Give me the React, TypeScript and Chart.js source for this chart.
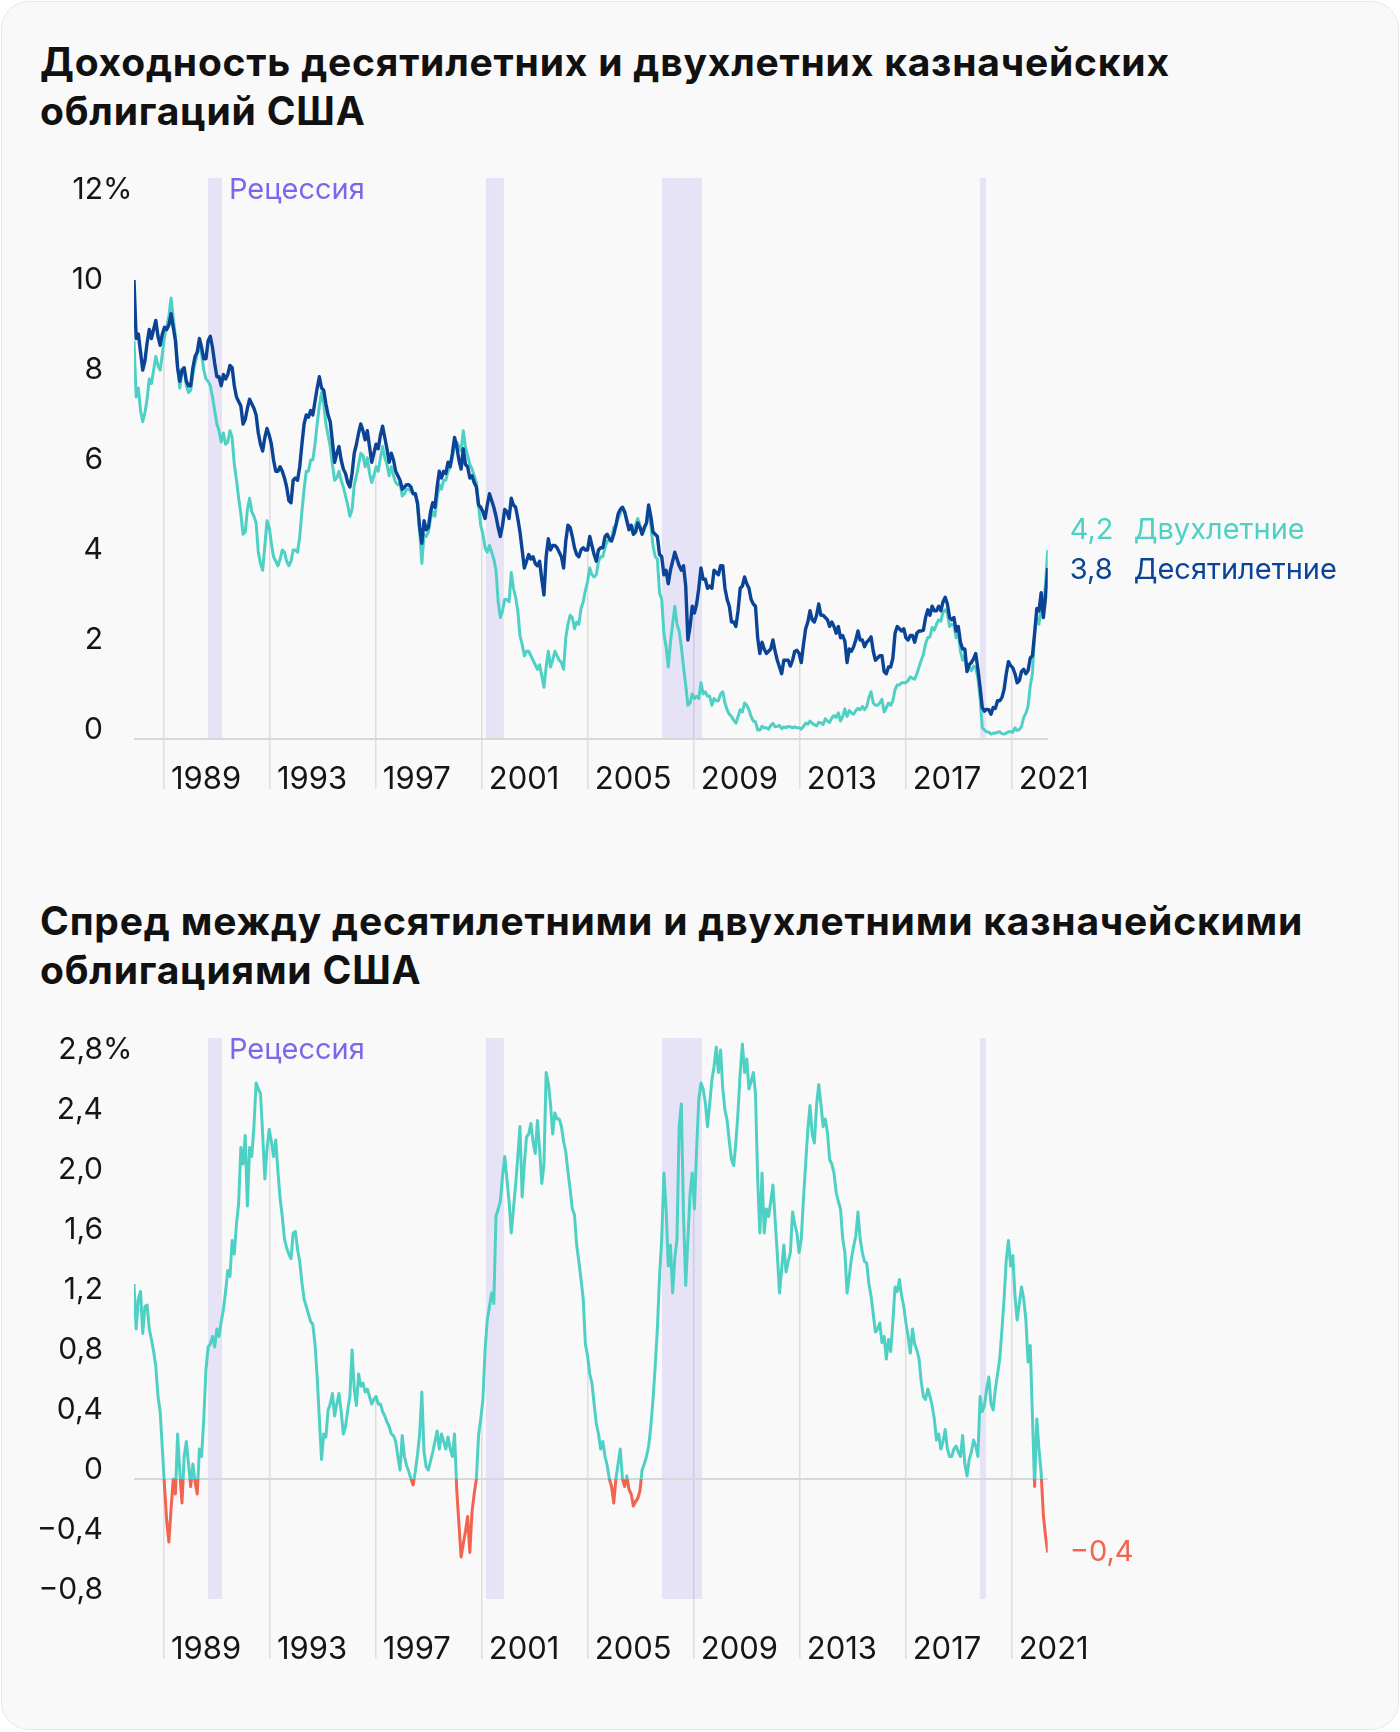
import React, { useEffect, useRef } from "react";
import { Chart, registerables } from "chart.js";

Chart.register(...registerables);

// ---------- style constants ----------
const FONT = "Inter, 'Noto Sans', sans-serif";
const BG = "#f9f9f9";
const TEAL = "#4fd0c4";
const BLUE = "#0b4496";
const RED = "#f26350";
const BAND = "rgba(120,100,230,0.15)";
const GRID = "#dedede";
const ZERO = "#d8d8d8";
const TEXT = "#151515";
const PURPLE = "#7a68ec";
const X_TICK_SIZE = 31;
const Y_TICK_SIZE = 30;
const LABEL_SIZE = 29;

// ---------- data ----------
const START = 1987.87; // chart position of first monthly point (Oct 1987)
const END = 2022.36; // chart position of last monthly point (Sep 2022)
const YEAR_TICKS = [1989, 1993, 1997, 2001, 2005, 2009, 2013, 2017, 2021];
const RECESSIONS: [number, number][] = [
  [1990.66, 1991.19],
  [2001.15, 2001.83],
  [2007.8, 2009.31],
  [2019.8, 2020.03],
];
const YIELD_TICKS = [0, 2, 4, 6, 8, 10, 12];
const SPREAD_TICKS = [-0.8, -0.4, 0, 0.4, 0.8, 1.2, 1.6, 2.0, 2.4, 2.8];

// 10-year yield, monthly Oct 1987 .. Sep 2022
const TEN_Y = [
  10.2, 8.9, 9.0,
  8.6, 8.2, 8.4, 8.8, 9.1, 8.9, 9.1, 9.3, 8.95, 8.75, 9.0, 9.15,
  9.1, 9.2, 9.45, 9.15, 8.85, 8.25, 7.95, 8.2, 8.25, 7.95, 7.85, 7.85,
  8.25, 8.5, 8.6, 8.9, 8.7, 8.45, 8.45, 8.85, 8.95, 8.7, 8.35, 8.05,
  8.05, 7.85, 8.1, 8.0, 8.1, 8.3, 8.25, 7.85, 7.6, 7.5, 7.4, 7.0,
  7.1, 7.35, 7.55, 7.45, 7.35, 7.2, 6.8, 6.55, 6.4, 6.7, 6.9, 6.75,
  6.55, 6.2, 5.95, 5.95, 6.05, 5.95, 5.8, 5.6, 5.3, 5.25, 5.75, 5.8,
  5.75, 6.05, 6.55, 7.0, 7.2, 7.15, 7.3, 7.2, 7.5, 7.8, 8.05, 7.8,
  7.75, 7.45, 7.2, 7.05, 6.6, 6.15, 6.35, 6.5, 6.2, 6.0, 5.9, 5.7,
  5.6, 5.9, 6.35, 6.55, 6.8, 7.0, 6.85, 6.65, 6.85, 6.5, 6.15, 6.35,
  6.55, 6.45, 6.75, 6.95, 6.7, 6.45, 6.15, 6.35, 6.2, 5.95, 5.85, 5.75,
  5.55, 5.6, 5.65, 5.65, 5.6, 5.45, 5.45, 5.25, 4.7, 4.35, 4.85, 4.65,
  4.7, 5.05, 5.25, 5.15, 5.6, 5.95, 5.8, 5.95, 5.9, 6.15, 6.05, 6.35,
  6.7, 6.5, 6.2, 6.0, 6.45, 6.1, 6.05, 5.8, 5.85, 5.7, 5.6, 5.2,
  5.15, 5.05, 4.9, 5.2, 5.45, 5.3, 5.15, 4.95, 4.7, 4.5, 4.75, 5.1,
  5.05, 4.9, 5.35, 5.2, 5.15, 4.9, 4.6, 4.2, 3.8, 3.95, 4.1, 4.0,
  4.05, 3.9, 3.85, 3.95, 3.55, 3.2, 4.05, 4.45, 4.2, 4.3, 4.3, 4.25,
  4.15, 4.05, 3.8, 4.4, 4.75, 4.7, 4.5, 4.25, 4.1, 4.05, 4.2, 4.25,
  4.2, 4.2, 4.5, 4.3, 4.1, 3.95, 4.2, 4.25, 4.25, 4.5, 4.55, 4.45,
  4.4, 4.55, 4.75, 5.0, 5.1, 5.15, 5.05, 4.85, 4.65, 4.75, 4.55, 4.6,
  4.8, 4.7, 4.55, 4.7, 4.8, 5.2, 4.95, 4.6, 4.55, 4.5, 4.1, 4.05,
  3.65, 3.75, 3.45, 3.75, 3.95, 4.15, 4.0, 3.85, 3.75, 3.85, 3.4, 2.2,
  2.5, 2.95, 2.8, 3.0, 3.35, 3.8, 3.55, 3.55, 3.35, 3.4, 3.35, 3.75,
  3.7, 3.65, 3.85, 3.85, 3.35, 3.1, 2.95, 2.6, 2.6, 2.5, 2.85, 3.35,
  3.4, 3.6, 3.45, 3.35, 3.1, 3.0, 2.95, 2.25, 1.9, 2.15, 2.0, 1.9,
  1.95, 2.0, 2.2, 1.95, 1.75, 1.6, 1.45, 1.75, 1.75, 1.75, 1.62, 1.75,
  1.95, 1.97, 1.9, 1.7, 2.1, 2.45, 2.6, 2.85, 2.65, 2.6, 2.75, 3.0,
  2.75, 2.75, 2.7, 2.65, 2.5, 2.6, 2.5, 2.35, 2.5, 2.25, 2.3, 2.17,
  1.7, 2.0, 1.95, 2.05, 2.2, 2.4, 2.2, 2.2, 2.05, 2.15, 2.2, 2.27,
  1.95, 1.75, 1.8, 1.85, 1.85, 1.5, 1.45, 1.6, 1.6, 1.8, 2.35, 2.5,
  2.45, 2.4, 2.45, 2.25, 2.2, 2.3, 2.3, 2.15, 2.35, 2.4, 2.4, 2.42,
  2.7, 2.87, 2.75, 2.95, 2.85, 2.85, 2.95, 2.85, 3.05, 3.15, 3.0, 2.7,
  2.65, 2.7, 2.4, 2.5, 2.15, 2.0, 2.0, 1.5, 1.65, 1.7, 1.78, 1.9,
  1.55, 1.15, 0.7, 0.62, 0.66, 0.65, 0.55, 0.7, 0.68, 0.85, 0.85, 0.92,
  1.1, 1.45, 1.72, 1.63, 1.58, 1.45, 1.25, 1.3, 1.5, 1.55, 1.45, 1.52,
  1.8, 1.85, 2.35, 2.9, 2.85, 3.25, 2.7, 3.15, 3.8,
];

// 2-year yield, monthly Oct 1987 .. Sep 2022
const TWO_Y = [
  8.85, 7.6, 7.8,
  7.3, 7.05, 7.25, 7.55, 8.0, 7.9, 8.2, 8.5, 8.3, 8.2, 8.55, 8.95,
  9.15, 9.4, 9.8, 9.35, 8.95, 8.25, 7.8, 8.15, 8.25, 7.85, 7.7, 7.75,
  8.1, 8.35, 8.55, 8.75, 8.55, 8.2, 8.0, 7.95, 7.85, 7.6, 7.3, 7.0,
  6.85, 6.6, 6.8, 6.55, 6.6, 6.85, 6.7, 6.1, 5.75, 5.35, 5.0, 4.55,
  4.6, 5.1, 5.35, 5.05, 4.95, 4.8, 4.15, 3.9, 3.75, 4.3, 4.85, 4.7,
  4.35, 4.05, 3.95, 3.85, 4.0, 4.2, 4.15, 3.95, 3.85, 3.95, 4.2, 4.2,
  4.15, 4.5, 5.05, 5.55, 5.95, 5.95, 6.2, 6.2, 6.55, 7.0, 7.4, 7.7,
  7.45, 7.0, 6.75, 6.5, 6.1, 5.75, 5.8, 5.95, 5.75, 5.6, 5.4, 5.2,
  4.95, 5.1, 5.65, 5.85, 6.1, 6.35, 6.3, 6.05, 6.25, 5.9, 5.7, 5.85,
  6.05, 5.95, 6.25, 6.5, 6.25, 6.1, 5.85, 6.05, 5.85, 5.7, 5.65, 5.7,
  5.4, 5.45, 5.55, 5.55, 5.5, 5.45, 5.45, 5.2, 4.6, 3.9, 4.55, 4.5,
  4.6, 4.9, 5.05, 4.95, 5.35, 5.65, 5.55, 5.75, 5.75, 5.95, 6.05, 6.25,
  6.5, 6.6, 6.5, 6.4, 6.85, 6.5, 6.3, 6.1, 6.0, 5.85, 5.7, 5.2,
  4.75, 4.55, 4.25, 4.15, 4.3, 4.15, 4.0, 3.75, 3.05, 2.7, 2.85, 3.1,
  3.1, 3.05, 3.7, 3.35, 3.15, 2.85, 2.3, 2.1, 1.85, 1.95, 1.95, 1.85,
  1.75, 1.65, 1.55, 1.65, 1.4, 1.15, 1.6, 1.95, 1.6, 1.75, 1.95, 1.85,
  1.75, 1.7, 1.55, 2.25, 2.55, 2.75, 2.7, 2.45, 2.6, 2.55, 2.9, 3.05,
  3.3, 3.5, 3.8, 3.65, 3.6, 3.65, 3.95, 4.05, 4.05, 4.25, 4.4, 4.4,
  4.45, 4.7, 4.75, 4.9, 5.0, 5.15, 5.05, 4.85, 4.7, 4.75, 4.65, 4.75,
  4.9, 4.75, 4.55, 4.65, 4.8, 5.0, 4.75, 4.3, 4.05, 4.0, 3.25, 3.1,
  2.35, 2.05, 1.6, 2.15, 2.55, 2.95, 2.55, 2.4, 2.05, 1.6, 1.2, 0.75,
  0.8, 1.0, 0.9, 0.95, 0.9, 1.25, 1.0, 1.05, 0.95, 0.95, 0.75, 0.9,
  0.85, 0.85, 1.0, 1.05, 0.8, 0.65, 0.55, 0.5, 0.42, 0.35, 0.5, 0.65,
  0.6, 0.8, 0.75, 0.65, 0.5, 0.4, 0.38, 0.2, 0.2, 0.28, 0.25, 0.25,
  0.22, 0.3, 0.35, 0.27, 0.28, 0.3, 0.23, 0.27, 0.25, 0.28, 0.27, 0.25,
  0.27, 0.25, 0.25, 0.22, 0.28, 0.35, 0.33, 0.4, 0.35, 0.32, 0.29, 0.37,
  0.36, 0.32, 0.45, 0.4, 0.37, 0.47, 0.52, 0.48, 0.58, 0.4, 0.5, 0.67,
  0.5, 0.63, 0.58, 0.55, 0.63, 0.68, 0.65, 0.72, 0.65, 0.72, 0.92, 1.05,
  0.8, 0.75, 0.75, 0.8, 0.88, 0.6, 0.7, 0.8, 0.75, 0.85, 1.1, 1.2,
  1.2, 1.25, 1.25, 1.25, 1.3, 1.38, 1.35, 1.33, 1.45, 1.6, 1.75, 1.88,
  2.12, 2.25, 2.27, 2.48, 2.42, 2.55, 2.65, 2.62, 2.82, 2.87, 2.8, 2.5,
  2.55, 2.52, 2.25, 2.35, 1.95, 1.75, 1.85, 1.5, 1.6, 1.52, 1.62, 1.58,
  1.35, 0.9, 0.25, 0.2, 0.16, 0.15, 0.11, 0.13, 0.13, 0.15, 0.16, 0.12,
  0.11, 0.13, 0.16, 0.16, 0.15, 0.25, 0.19, 0.21, 0.28, 0.48, 0.57, 0.73,
  1.18, 1.45, 2.35, 2.7, 2.55, 2.95, 2.9, 3.45, 4.2,
];

// 10y - 2y spread, monthly Oct 1987 .. Sep 2022
const SPREAD = [
  1.3, 1.0, 1.2,
  1.25, 0.97, 1.15, 1.16, 1.0, 0.93, 0.85, 0.75, 0.55, 0.45, 0.2, -0.05,
  -0.28, -0.42, -0.2, 0.0, -0.1, 0.3, 0.05, -0.16, 0.15, 0.25, 0.1, -0.05,
  0.1, -0.02, -0.1, 0.2, 0.15, 0.4, 0.73, 0.88, 0.9, 0.95, 0.88, 1.0,
  0.95, 1.05, 1.13, 1.25, 1.39, 1.35, 1.59, 1.5, 1.7, 1.84, 2.21, 2.1,
  2.29, 1.82, 2.21, 2.15, 2.35, 2.64, 2.6, 2.57, 2.3, 2.0, 2.2, 2.33,
  2.25, 2.15, 2.26, 2.05, 1.87, 1.75, 1.6, 1.54, 1.5, 1.47, 1.64, 1.65,
  1.53, 1.45, 1.31, 1.2, 1.15, 1.1, 1.05, 1.03, 0.9, 0.68, 0.4, 0.13,
  0.3, 0.28, 0.46, 0.5, 0.57, 0.42, 0.5, 0.57, 0.45, 0.3, 0.35, 0.46,
  0.55, 0.86, 0.6, 0.49, 0.7, 0.62, 0.64, 0.58, 0.6, 0.55, 0.5, 0.53,
  0.55, 0.5, 0.5, 0.45, 0.42, 0.38, 0.35, 0.3, 0.29, 0.25, 0.15, 0.06,
  0.29, 0.15, 0.09, 0.05, 0.0, -0.04, 0.05, 0.16, 0.3, 0.58, 0.18, 0.08,
  0.06, 0.12, 0.18, 0.25, 0.32, 0.2, 0.3, 0.25, 0.2, 0.28, 0.2, 0.15,
  0.3, -0.07, -0.3, -0.52, -0.43, -0.35, -0.25, -0.49, -0.22, -0.1, 0.0, 0.29,
  0.4, 0.53, 0.86, 1.06, 1.15, 1.24, 1.17, 1.75, 1.8, 1.85, 2.02, 2.15,
  2.0, 1.85, 1.64, 1.8, 1.96, 2.15, 2.35, 1.88, 2.1, 2.28, 2.3, 2.37,
  2.25, 2.17, 2.39, 2.2, 1.97, 2.1, 2.71, 2.64, 2.5, 2.3, 2.44, 2.4,
  2.4, 2.35, 2.25, 2.18, 2.05, 1.93, 1.8, 1.76, 1.56, 1.45, 1.33, 1.2,
  0.9, 0.82, 0.7, 0.64, 0.5, 0.37, 0.3, 0.2, 0.25, 0.15, 0.09, 0.0,
  -0.05, -0.16, 0.0, 0.1, 0.2, 0.0, -0.05, 0.02, -0.07, -0.1, -0.18, -0.15,
  -0.13, -0.08, 0.06, 0.1, 0.15, 0.22, 0.35, 0.53, 0.75, 1.0, 1.35, 1.6,
  2.04, 1.8, 1.42, 1.56, 1.24, 1.47, 1.6, 2.35, 2.5, 1.75, 1.29, 1.6,
  1.9, 2.04, 1.8, 2.2, 2.53, 2.64, 2.6, 2.51, 2.35, 2.5, 2.66, 2.75,
  2.88, 2.71, 2.86, 2.6, 2.46, 2.39, 2.25, 2.13, 2.09, 2.24, 2.45, 2.71,
  2.9, 2.71, 2.8, 2.6, 2.65, 2.71, 2.57, 2.0, 1.64, 2.04, 1.64, 1.8,
  1.75, 1.85, 1.96, 1.73, 1.5, 1.24, 1.4, 1.56, 1.38, 1.45, 1.51, 1.78,
  1.7, 1.64, 1.51, 1.6, 1.87, 2.1, 2.33, 2.49, 2.3, 2.24, 2.49, 2.63,
  2.5, 2.35, 2.4, 2.31, 2.13, 2.1, 2.04, 1.91, 1.85, 1.8, 1.6, 1.51,
  1.24, 1.35, 1.47, 1.55, 1.62, 1.78, 1.6, 1.51, 1.45, 1.44, 1.3, 1.22,
  1.1, 0.98, 1.0, 1.04, 0.91, 0.95, 0.8, 0.93, 0.85, 1.05, 1.28, 1.25,
  1.33, 1.22, 1.15, 1.04, 0.95, 0.84, 1.0, 0.9, 0.86, 0.8, 0.65, 0.55,
  0.53, 0.6, 0.55, 0.49, 0.4, 0.26, 0.3, 0.2, 0.25, 0.33, 0.2, 0.15,
  0.15, 0.2, 0.22, 0.18, 0.15, 0.29, 0.1, 0.02, 0.13, 0.18, 0.26, 0.22,
  0.15, 0.55, 0.45, 0.49, 0.6, 0.68, 0.5, 0.46, 0.6, 0.7, 0.8, 0.99,
  1.2, 1.46, 1.59, 1.42, 1.49, 1.22, 1.06, 1.17, 1.28, 1.2, 1.06, 0.78,
  0.89, 0.42, -0.05, 0.4, 0.2, 0.04, -0.24, -0.38, -0.49,
];

const END_LABELS = { two: 4.2, ten: 3.8, spread: -0.4 };
const SERIES_NAMES = { two: "Двухлетние", ten: "Десятилетние" };
const TITLES = [
  ["Доходность десятилетних и двухлетних казначейских", "облигаций США"],
  ["Спред между десятилетними и двухлетними казначейскими", "облигациями США"],
];
const RECESSION_LABEL = "Рецессия";

// ---------- helpers ----------
const xAt = (i: number, n: number) => START + (i * (END - START)) / (n - 1);
const toPoints = (arr: number[]) => arr.map((v, i) => ({ x: xAt(i, arr.length), y: v }));
const comma = (v: number, d: number) =>
  v === 0 ? "0" : (v < 0 ? "\u2212" : "") + Math.abs(v).toFixed(d).replace(".", ",");

const PLOT_LEFT = 134;
const PLOT_RIGHT = 1047.7;
const W = 1400;

function decorPlugin(opts: {
  maskSets: number[];
  pctTick: number;
  endLabels: (chart: any, ctx: CanvasRenderingContext2D) => void;
}) {
  return {
    id: "decor",
    beforeDatasetsDraw(chart: any) {
      const { ctx, chartArea: a, scales } = chart;
      const x = scales.x;
      const y = scales.y;
      const metas = opts.maskSets.map((i) => chart.getDatasetMeta(i).data);
      const n = metas[0].length;
      ctx.save();
      // hide grid above the highest line
      ctx.beginPath();
      ctx.moveTo(metas[0][0].x, a.top - 1);
      for (let i = 0; i < n; i++) {
        let py = Infinity;
        for (const m of metas) py = Math.min(py, m[i].y);
        ctx.lineTo(metas[0][i].x, py);
      }
      ctx.lineTo(metas[0][n - 1].x, a.top - 1);
      ctx.closePath();
      ctx.fillStyle = BG;
      ctx.fill();
      // recession bands
      ctx.fillStyle = BAND;
      for (const [s, e] of RECESSIONS) {
        const x0 = x.getPixelForValue(s);
        const x1 = x.getPixelForValue(e);
        ctx.fillRect(x0, a.top, x1 - x0, a.bottom - a.top);
      }
      // zero line
      const y0 = y.getPixelForValue(0);
      ctx.strokeStyle = ZERO;
      ctx.lineWidth = 2;
      ctx.beginPath();
      ctx.moveTo(a.left, y0);
      ctx.lineTo(a.right, y0);
      ctx.stroke();
      ctx.restore();
    },
    afterDraw(chart: any) {
      const { ctx, chartArea: a, scales } = chart;
      const x = scales.x;
      const y = scales.y;
      ctx.save();
      ctx.textBaseline = "middle";
      ctx.textAlign = "left";
      // percent sign after top tick label
      ctx.font = `${Y_TICK_SIZE}px ${FONT}`;
      ctx.fillStyle = TEXT;
      ctx.fillText("%", a.left - 31, y.getPixelForValue(opts.pctTick) - 9);
      // recession label
      ctx.font = `${LABEL_SIZE}px ${FONT}`;
      ctx.fillStyle = PURPLE;
      ctx.fillText(RECESSION_LABEL, x.getPixelForValue(RECESSIONS[0][1]) + 7, a.top + 12);
      opts.endLabels(chart, ctx);
      ctx.restore();
    },
  };
}

function makeOptions(p: {
  yMin: number;
  yMax: number;
  yTicks: number[];
  yFmt: (v: number) => string;
  tickLen: number;
  xAxisH: number;
}) {
  return {
    responsive: false,
    animation: false,
    devicePixelRatio: 1,
    events: [],
    layout: { padding: { left: 0, right: W - PLOT_RIGHT, top: 28, bottom: 0 } },
    plugins: { legend: { display: false }, tooltip: { enabled: false }, title: { display: false } },
    scales: {
      x: {
        type: "linear",
        min: START,
        max: END,
        afterBuildTicks: (s: any) => {
          s.ticks = YEAR_TICKS.map((v) => ({ value: v }));
        },
        afterFit: (s: any) => {
          s.height = p.xAxisH;
          s.paddingLeft = 0;
          s.paddingRight = 0;
        },
        grid: {
          display: true,
          color: GRID,
          lineWidth: 1.5,
          drawOnChartArea: true,
          drawTicks: true,
          tickLength: p.tickLen,
          tickColor: GRID,
          tickWidth: 1.5,
        },
        border: { display: false },
        ticks: {
          autoSkip: false,
          maxRotation: 0,
          minRotation: 0,
          align: "start",
          labelOffset: 7,
          padding: -27.5,
          color: TEXT,
          font: { family: FONT, size: X_TICK_SIZE },
          callback: (v: number) => String(v),
        },
      },
      y: {
        type: "linear",
        min: p.yMin,
        max: p.yMax,
        afterBuildTicks: (s: any) => {
          s.ticks = p.yTicks.map((v) => ({ value: v }));
        },
        afterFit: (s: any) => {
          s.width = PLOT_LEFT;
          s.paddingTop = 0;
          s.paddingBottom = 0;
        },
        grid: { display: false, drawTicks: false },
        border: { display: false },
        ticks: {
          padding: 31,
          labelOffset: -9,
          color: TEXT,
          font: { family: FONT, size: Y_TICK_SIZE },
          callback: p.yFmt,
        },
      },
    },
  };
}

function yieldConfig() {
  const endLabels = (chart: any, ctx: CanvasRenderingContext2D) => {
    const { chartArea: a, scales } = chart;
    const y = scales.y;
    const p10 = y.getPixelForValue(TEN_Y[TEN_Y.length - 1]);
    const p2 = y.getPixelForValue(TWO_Y[TWO_Y.length - 1]);
    const l10 = p10 + 2;
    let l2 = p2;
    if (l10 - l2 < 40) l2 = l10 - 40;
    ctx.font = `${LABEL_SIZE}px ${FONT}`;
    ctx.fillStyle = TEAL;
    ctx.fillText(comma(END_LABELS.two, 1), a.right + 22, l2);
    ctx.fillText(SERIES_NAMES.two, a.right + 86, l2);
    ctx.fillStyle = BLUE;
    ctx.fillText(comma(END_LABELS.ten, 1), a.right + 22, l10);
    ctx.fillText(SERIES_NAMES.ten, a.right + 86, l10);
  };
  return {
    type: "line",
    data: {
      datasets: [
        {
          data: toPoints(TEN_Y),
          borderColor: BLUE,
          borderWidth: 3.4,
          pointRadius: 0,
          tension: 0,
          borderJoinStyle: "round",
          fill: false,
        },
        {
          data: toPoints(TWO_Y),
          borderColor: TEAL,
          borderWidth: 3,
          pointRadius: 0,
          tension: 0,
          borderJoinStyle: "round",
          fill: false,
        },
      ],
    },
    options: makeOptions({
      yMin: 0,
      yMax: 12.467,
      yTicks: YIELD_TICKS,
      yFmt: (v: number) => String(v),
      tickLen: 50,
      xAxisH: 71,
    }),
    plugins: [decorPlugin({ maskSets: [0, 1], pctTick: 12, endLabels })],
  };
}

function spreadConfig() {
  const endLabels = (chart: any, ctx: CanvasRenderingContext2D) => {
    const { chartArea: a, scales } = chart;
    const py = scales.y.getPixelForValue(SPREAD[SPREAD.length - 1]);
    ctx.font = `${LABEL_SIZE}px ${FONT}`;
    ctx.fillStyle = RED;
    ctx.fillText(comma(END_LABELS.spread, 1), a.right + 22, py);
  };
  return {
    type: "line",
    data: {
      datasets: [
        {
          data: toPoints(SPREAD),
          borderColor: (c: any) => {
            const ch = c.chart;
            const a = ch.chartArea;
            if (!a) return TEAL;
            const y0 = ch.scales.y.getPixelForValue(0);
            const g = ch.ctx.createLinearGradient(0, a.top, 0, a.bottom);
            const t = Math.min(1, Math.max(0, (y0 - a.top) / (a.bottom - a.top)));
            g.addColorStop(0, TEAL);
            g.addColorStop(t, TEAL);
            g.addColorStop(t, RED);
            g.addColorStop(1, RED);
            return g;
          },
          borderWidth: 3,
          pointRadius: 0,
          tension: 0,
          borderJoinStyle: "round",
          fill: false,
        },
      ],
    },
    options: makeOptions({
      yMin: -0.8,
      yMax: 2.94,
      yTicks: SPREAD_TICKS,
      yFmt: (v: number) => comma(v, 1),
      tickLen: 60,
      xAxisH: 91,
    }),
    plugins: [decorPlugin({ maskSets: [0], pctTick: 2.8, endLabels })],
  };
}

function ChartCanvas({ make, top, height }: { make: () => any; top: number; height: number }) {
  const ref = useRef<HTMLCanvasElement>(null);
  useEffect(() => {
    const chart = new Chart(ref.current as HTMLCanvasElement, make());
    return () => chart.destroy();
  }, []);
  return (
    <canvas
      ref={ref}
      width={W}
      height={height}
      style={{ position: "absolute", left: 0, top, width: W, height, display: "block" }}
    />
  );
}

function Title({ lines, top }: { lines: string[]; top: number }) {
  return (
    <div
      style={{
        position: "absolute",
        left: 40,
        top,
        fontFamily: FONT,
        fontWeight: 700,
        fontSize: 39,
        lineHeight: "49px",
        letterSpacing: "0.8px",
        color: "#111",
        whiteSpace: "nowrap",
      }}
    >
      {lines.map((l, i) => (
        <div key={i}>{l}</div>
      ))}
    </div>
  );
}

export default function App() {
  return (
    <div style={{ position: "relative", width: 1400, height: 1732, background: "#ffffff", overflow: "hidden" }}>
      <style>{`html,body{margin:0;padding:0;background:#fff;}`}</style>
      <div
        style={{
          position: "absolute",
          left: 1,
          top: 1,
          width: 1398,
          height: 1729,
          boxSizing: "border-box",
          border: "1.5px solid #e8e8e8",
          borderRadius: 28,
          background: BG,
        }}
      />
      <Title lines={TITLES[0]} top={37} />
      <ChartCanvas make={yieldConfig} top={150} height={660} />
      <Title lines={TITLES[1]} top={896} />
      <ChartCanvas make={spreadConfig} top={1010} height={680} />
    </div>
  );
}
